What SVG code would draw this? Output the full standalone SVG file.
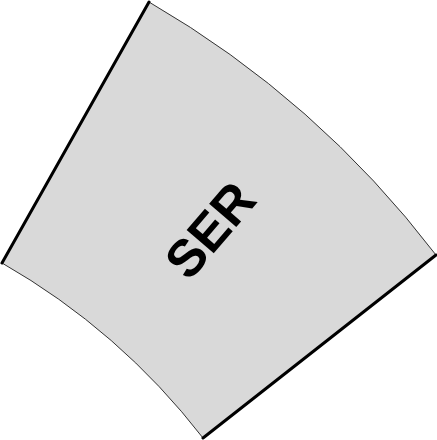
<svg xmlns="http://www.w3.org/2000/svg" width="437" height="440" viewBox="0 0 437 440">
<style>
.sector{fill:#d9d9d9;stroke:#333333;stroke-width:1}
.edge{stroke:#000000;stroke-width:3;stroke-linecap:round;fill:none}
.lbl{font-family:"Liberation Sans",Arial,sans-serif;font-weight:bold;font-size:52px;fill:#000000}
</style>
<g id="ser">
<path class="sector" d="M149 2 A982 982 0 0 1 436 255 L203 438 A684 684 0 0 0 2 263 Z"/>
<line class="edge" x1="149" y1="2" x2="2" y2="263"/>
<line class="edge" x1="436" y1="255" x2="203" y2="438"/>
<text class="lbl" x="0" y="0" text-anchor="middle" dominant-baseline="central" transform="translate(210,230) rotate(-49.4)">SER</text>
</g>
</svg>
